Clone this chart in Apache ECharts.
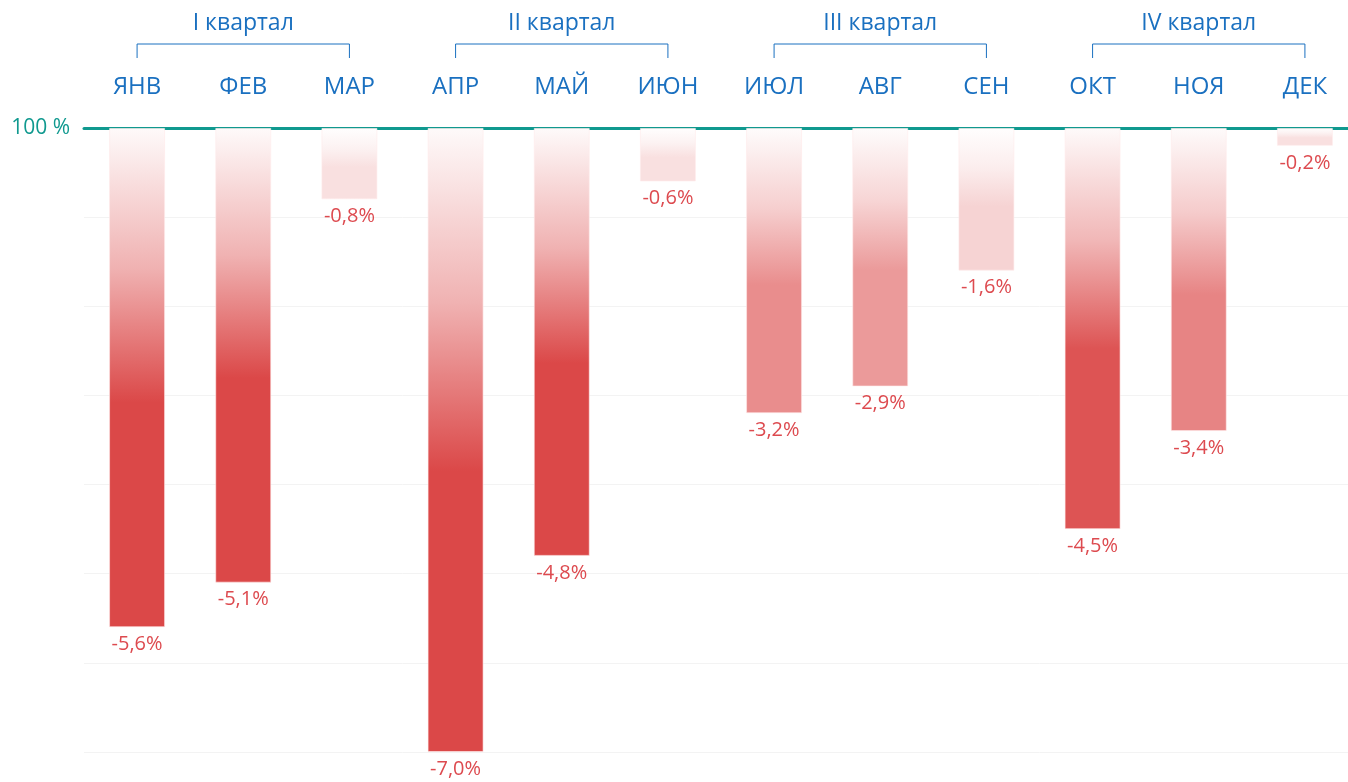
<!DOCTYPE html>
<html>
<head>
<meta charset="utf-8">
<script src="https://cdn.jsdelivr.net/npm/echarts@6/dist/echarts.min.js"></script>
<style>
  html, body { margin: 0; padding: 0; background: #fff; overflow: hidden; }
  #chart { width: 1358px; height: 782px; }
</style>
</head>
<body>
<div id="chart"></div>
<script>
// данные
const months = ['ЯНВ', 'ФЕВ', 'МАР', 'АПР', 'МАЙ', 'ИЮН', 'ИЮЛ', 'АВГ', 'СЕН', 'ОКТ', 'НОЯ', 'ДЕК'];
const changes = [-5.6, -5.1, -0.8, -7.0, -4.8, -0.6, -3.2, -2.9, -1.6, -4.5, -3.4, -0.2];
const quarters = ['I квартал', 'II квартал', 'III квартал', 'IV квартал'];
const yMin = -7, yMax = 0, yStep = 1;

const FONT = '"Open Sans", "Noto Sans", sans-serif';
const BLUE = '#1a70c0';
const TEAL = '#10998f';
const RED = [219, 72, 72];

// смешиваем красный с белым
function mix(alpha) {
  const c = RED.map(ch => Math.round(255 - alpha * (255 - ch)));
  return 'rgb(' + c.join(',') + ')';
}

function barGradient(v) {
  // чем глубже падение, тем насыщеннее цвет
  const a = Math.min(1, Math.max(0.17, 0.24 * (Math.abs(v) - 0.6)));
  return new echarts.graphic.LinearGradient(0, 0, 0, 1, [
    { offset: 0, color: mix(0.03 * a) },
    { offset: 0.28, color: mix(0.42 * a) },
    { offset: 0.55, color: mix(a) },
    { offset: 1, color: mix(a) }
  ]);
}

let chart = echarts.init(document.getElementById('chart'));

let option = {
  animation: false,
  grid: { left: 84, right: 0, top: 128, bottom: 30, containLabel: false },
  xAxis: [
    {
      type: 'category',
      data: months,
      position: 'top',
      offset: 0,
      axisLine: { show: true, lineStyle: { color: TEAL, width: 3 } },
      axisTick: { show: false },
      axisLabel: { color: BLUE, fontSize: 24, fontFamily: FONT, margin: 29 },
      splitLine: { show: false }
    },
    {
      type: 'category',
      data: quarters,
      position: 'top',
      offset: 0,
      axisLine: { show: false },
      axisTick: { show: false },
      axisLabel: { color: BLUE, fontSize: 23, fontFamily: FONT, margin: 93 },
      splitLine: { show: false }
    }
  ],
  yAxis: {
    type: 'value',
    min: yMin,
    max: yMax,
    interval: yStep,
    axisLine: { show: false },
    axisTick: { show: false },
    axisLabel: {
      color: TEAL, fontSize: 21, fontFamily: FONT, margin: 14,
      formatter: v => (v === 0 ? '100 %' : '')
    },
    splitLine: { lineStyle: { color: '#f3f3f3', width: 1 } }
  },
  series: [
    {
      type: 'bar',
      xAxisIndex: 0,
      barWidth: 56,
      data: changes.map(v => ({ value: v, itemStyle: { color: barGradient(v) } })),
      itemStyle: { borderColor: 'rgba(255,235,235,0.6)', borderWidth: 1 },
      label: {
        show: true,
        position: 'bottom',
        distance: 7,
        color: '#dd4a4f',
        fontSize: 20,
        fontFamily: FONT,
        formatter: p => p.value.toFixed(1).replace('.', ',') + '%'
      }
    }
  ]
};
chart.setOption(option);

// скобки над месяцами каждого квартала
let brackets = quarters.map((q, i) => {
  const x1 = chart.convertToPixel({ xAxisIndex: 0 }, months[i * 3]);
  const x3 = chart.convertToPixel({ xAxisIndex: 0 }, months[i * 3 + 2]);
  return {
    type: 'polyline',
    shape: { points: [[x1, 58], [x1, 44], [x3, 44], [x3, 58]] },
    style: { stroke: BLUE, lineWidth: 1, fill: null }
  };
});
chart.setOption({ graphic: brackets });
</script>
</body>
</html>
